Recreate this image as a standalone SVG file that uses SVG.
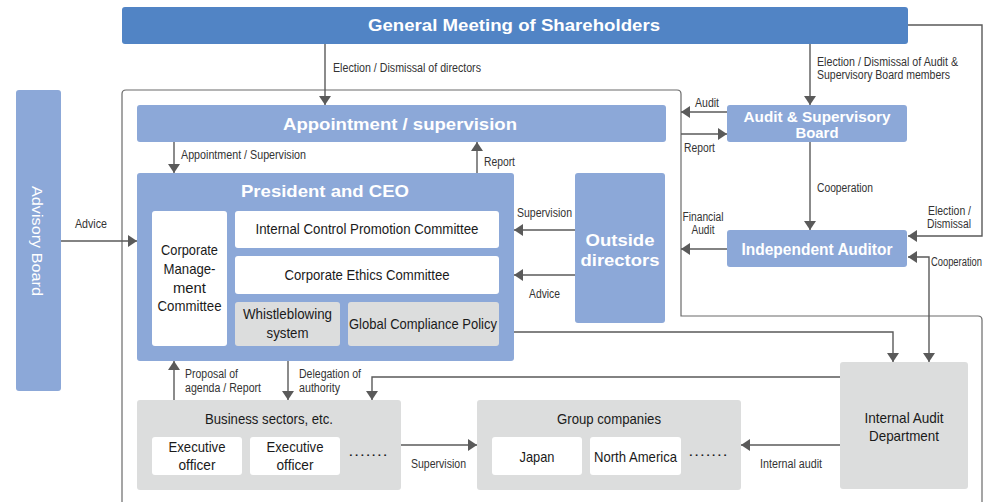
<svg xmlns="http://www.w3.org/2000/svg" width="991" height="502" viewBox="0 0 991 502">
<style>
.blue{fill:#8ca8d8}
.dark{fill:#5184c5}
.gray{fill:#dcdddd}
.white{fill:#ffffff}
.ln{fill:none;stroke:#5a5a5a;stroke-width:1.4}
.frame{fill:none;stroke:#6a6a6a;stroke-width:1.2}
.lbl{font-family:"Liberation Sans Narrow","Liberation Sans",Arial,sans-serif;font-size:12px;fill:#333333}
.nt{font-family:"Liberation Sans Narrow","Liberation Sans",Arial,sans-serif;font-size:15px;fill:#1a1a1a;text-anchor:middle}
.bt{font-family:"Liberation Sans",Arial,sans-serif;font-weight:bold;fill:#ffffff;text-anchor:middle}
</style>
<defs>
<marker id="ah" markerUnits="userSpaceOnUse" markerWidth="9" markerHeight="12" refX="9" refY="6" orient="auto">
<path d="M0,0 L9,6 L0,12 z" fill="#5a5a5a"/>
</marker>
<marker id="ahs" markerUnits="userSpaceOnUse" markerWidth="9" markerHeight="12" refX="9" refY="6" orient="auto-start-reverse">
<path d="M0,0 L9,6 L0,12 z" fill="#5a5a5a"/>
</marker>
</defs>
<rect width="991" height="502" fill="#ffffff"/>
<path class="frame" d="M122,502 L122,94 Q122,90 126,90 L677,90 Q681,90 681,94 L681,316 L978,316 Q982,316 982,320 L982,502"/>

<g id="connectors">
<line class="ln" x1="325" y1="44" x2="325" y2="105" marker-end="url(#ah)"/>
<line class="ln" x1="810" y1="44" x2="810" y2="105" marker-end="url(#ah)"/>
<line class="ln" x1="174" y1="142" x2="174" y2="173" marker-end="url(#ah)"/>
<line class="ln" x1="477" y1="173" x2="477" y2="142" marker-end="url(#ah)"/>
<line class="ln" x1="727" y1="112" x2="681" y2="112" marker-end="url(#ah)"/>
<line class="ln" x1="681" y1="134" x2="727" y2="134" marker-end="url(#ah)"/>
<line class="ln" x1="810" y1="142" x2="810" y2="230" marker-end="url(#ah)"/>
<line class="ln" x1="727" y1="249" x2="681" y2="249" marker-end="url(#ah)"/>
<path class="ln" d="M908,25 L982,25 L982,236 L908,236" marker-end="url(#ah)"/>
<path class="ln" d="M929,362 L929,257 L908,257" marker-start="url(#ahs)" marker-end="url(#ahs)"/>
<path class="ln" d="M514,332 L893,332 L893,362" marker-end="url(#ah)"/>
<line class="ln" x1="575" y1="230" x2="514" y2="230" marker-end="url(#ah)"/>
<line class="ln" x1="575" y1="275" x2="514" y2="275" marker-end="url(#ah)"/>
<line class="ln" x1="61" y1="241" x2="137" y2="241" marker-end="url(#ah)"/>
<line class="ln" x1="174" y1="400" x2="174" y2="361" marker-end="url(#ah)"/>
<line class="ln" x1="288" y1="361" x2="288" y2="400" marker-end="url(#ah)"/>
<path class="ln" d="M840,377 L372,377 L372,400" marker-end="url(#ah)"/>
<line class="ln" x1="401" y1="445" x2="477" y2="445" marker-end="url(#ah)"/>
<line class="ln" x1="840" y1="445" x2="741" y2="445" marker-end="url(#ah)"/>

<text class="lbl" x="333" y="72" textLength="148" lengthAdjust="spacingAndGlyphs">Election / Dismissal of directors</text>
<text class="lbl" x="817" y="66" textLength="141" lengthAdjust="spacingAndGlyphs">Election / Dismissal of Audit &amp;</text>
<text class="lbl" x="817" y="79" textLength="133" lengthAdjust="spacingAndGlyphs">Supervisory Board members</text>
<text class="lbl" x="695" y="107" textLength="24" lengthAdjust="spacingAndGlyphs">Audit</text>
<text class="lbl" x="684" y="152" textLength="31" lengthAdjust="spacingAndGlyphs">Report</text>
<text class="lbl" x="181" y="159" textLength="125" lengthAdjust="spacingAndGlyphs">Appointment / Supervision</text>
<text class="lbl" x="484" y="166" textLength="31" lengthAdjust="spacingAndGlyphs">Report</text>
<text class="lbl" x="817" y="192" textLength="56" lengthAdjust="spacingAndGlyphs">Cooperation</text>
<text class="lbl" x="517" y="217" textLength="55" lengthAdjust="spacingAndGlyphs">Supervision</text>
<text class="lbl" x="703" y="221" text-anchor="middle" textLength="41" lengthAdjust="spacingAndGlyphs">Financial</text>
<text class="lbl" x="703" y="234" text-anchor="middle" textLength="23" lengthAdjust="spacingAndGlyphs">Audit</text>
<text class="lbl" x="971" y="215" text-anchor="end" textLength="43" lengthAdjust="spacingAndGlyphs">Election /</text>
<text class="lbl" x="971" y="228" text-anchor="end" textLength="44" lengthAdjust="spacingAndGlyphs">Dismissal</text>
<text class="lbl" x="75" y="228" textLength="32" lengthAdjust="spacingAndGlyphs">Advice</text>
<text class="lbl" x="529" y="298" textLength="31" lengthAdjust="spacingAndGlyphs">Advice</text>
<text class="lbl" x="931" y="266" textLength="51" lengthAdjust="spacingAndGlyphs">Cooperation</text>
<text class="lbl" x="185" y="378" textLength="53" lengthAdjust="spacingAndGlyphs">Proposal of</text>
<text class="lbl" x="185" y="392" textLength="76" lengthAdjust="spacingAndGlyphs">agenda / Report</text>
<text class="lbl" x="299" y="378" textLength="62" lengthAdjust="spacingAndGlyphs">Delegation of</text>
<text class="lbl" x="299" y="392" textLength="41" lengthAdjust="spacingAndGlyphs">authority</text>
<text class="lbl" x="411" y="468" textLength="55" lengthAdjust="spacingAndGlyphs">Supervision</text>
<text class="lbl" x="760" y="468" textLength="62" lengthAdjust="spacingAndGlyphs">Internal audit</text>
</g>

<g id="general-meeting">
<rect class="dark" x="122" y="7" width="786" height="37" rx="3"/>
<text class="bt" x="514" y="31" font-size="17" textLength="292" lengthAdjust="spacingAndGlyphs">General Meeting of Shareholders</text>
</g>

<g id="advisory-board">
<rect class="blue" x="16" y="90" width="45" height="301" rx="3"/>
<text x="37" y="241" transform="rotate(90 37 241)" text-anchor="middle" dominant-baseline="central" font-family="Liberation Sans Narrow,Liberation Sans,Arial,sans-serif" font-size="15" fill="#ffffff" textLength="110" lengthAdjust="spacingAndGlyphs">Advisory Board</text>
</g>

<g id="appointment-supervision">
<rect class="blue" x="137" y="105" width="529" height="37" rx="3"/>
<text class="bt" x="400" y="130" font-size="17" textLength="234" lengthAdjust="spacingAndGlyphs">Appointment / supervision</text>
</g>

<g id="president-ceo">
<rect class="blue" x="137" y="173" width="377" height="188" rx="3"/>
<text class="bt" x="325" y="197" font-size="17" textLength="168" lengthAdjust="spacingAndGlyphs">President and CEO</text>
</g>

<g id="corporate-management-committee">
<rect class="white" x="152" y="211" width="75" height="135" rx="3"/>
<text class="nt" x="189.5" y="255" textLength="57" lengthAdjust="spacingAndGlyphs">Corporate</text>
<text class="nt" x="189.5" y="274" textLength="52" lengthAdjust="spacingAndGlyphs">Manage-</text>
<text class="nt" x="189.5" y="293" textLength="33" lengthAdjust="spacingAndGlyphs">ment</text>
<text class="nt" x="189.5" y="311" textLength="64" lengthAdjust="spacingAndGlyphs">Committee</text>
</g>

<g id="internal-control-committee">
<rect class="white" x="235" y="211" width="264" height="37" rx="3"/>
<text class="nt" x="367" y="234" textLength="223" lengthAdjust="spacingAndGlyphs">Internal Control Promotion Committee</text>
</g>

<g id="corporate-ethics-committee">
<rect class="white" x="235" y="256" width="264" height="38" rx="3"/>
<text class="nt" x="367" y="280" textLength="165" lengthAdjust="spacingAndGlyphs">Corporate Ethics Committee</text>
</g>

<g id="whistleblowing-system">
<rect class="gray" x="235" y="302" width="105" height="44" rx="3"/>
<text class="nt" x="287.5" y="319" textLength="89" lengthAdjust="spacingAndGlyphs">Whistleblowing</text>
<text class="nt" x="287.5" y="338" textLength="42" lengthAdjust="spacingAndGlyphs">system</text>
</g>

<g id="global-compliance-policy">
<rect class="gray" x="348" y="302" width="151" height="44" rx="3"/>
<text class="nt" x="423" y="329" textLength="148" lengthAdjust="spacingAndGlyphs">Global Compliance Policy</text>
</g>

<g id="outside-directors">
<rect class="blue" x="575" y="173" width="90" height="150" rx="3"/>
<text class="bt" x="620" y="246" font-size="17" textLength="69" lengthAdjust="spacingAndGlyphs">Outside</text>
<text class="bt" x="620" y="266" font-size="17" textLength="79" lengthAdjust="spacingAndGlyphs">directors</text>
</g>

<g id="audit-supervisory-board">
<rect class="blue" x="727" y="105" width="180" height="37" rx="3"/>
<text class="bt" x="817" y="122" font-size="15" textLength="147" lengthAdjust="spacingAndGlyphs">Audit &amp; Supervisory</text>
<text class="bt" x="817" y="138" font-size="15" textLength="43" lengthAdjust="spacingAndGlyphs">Board</text>
</g>

<g id="independent-auditor">
<rect class="blue" x="727" y="230" width="180" height="37" rx="3"/>
<text class="bt" x="817" y="255" font-size="16" textLength="151" lengthAdjust="spacingAndGlyphs">Independent Auditor</text>
</g>

<g id="internal-audit-department">
<rect class="gray" x="840" y="362" width="128" height="127" rx="3"/>
<text class="nt" x="904" y="423" textLength="79" lengthAdjust="spacingAndGlyphs">Internal Audit</text>
<text class="nt" x="904" y="441" textLength="70" lengthAdjust="spacingAndGlyphs">Department</text>
</g>

<g id="business-sectors">
<rect class="gray" x="137" y="400" width="264" height="90" rx="3"/>
<text class="nt" x="269" y="424" textLength="128" lengthAdjust="spacingAndGlyphs">Business sectors, etc.</text>
<rect class="white" x="152" y="437" width="90" height="38" rx="3"/>
<text class="nt" x="197" y="452" textLength="57" lengthAdjust="spacingAndGlyphs">Executive</text>
<text class="nt" x="197" y="470" textLength="37" lengthAdjust="spacingAndGlyphs">officer</text>
<rect class="white" x="250" y="437" width="90" height="38" rx="3"/>
<text class="nt" x="295" y="452" textLength="57" lengthAdjust="spacingAndGlyphs">Executive</text>
<text class="nt" x="295" y="470" textLength="37" lengthAdjust="spacingAndGlyphs">officer</text>
<text class="nt" x="368" y="459" textLength="40" lengthAdjust="spacingAndGlyphs">·······</text>
</g>

<g id="group-companies">
<rect class="gray" x="477" y="400" width="264" height="90" rx="3"/>
<text class="nt" x="609" y="424" textLength="104" lengthAdjust="spacingAndGlyphs">Group companies</text>
<rect class="white" x="492" y="437" width="90" height="38" rx="3"/>
<text class="nt" x="537" y="462" textLength="35" lengthAdjust="spacingAndGlyphs">Japan</text>
<rect class="white" x="590" y="437" width="91" height="38" rx="3"/>
<text class="nt" x="635.5" y="462" textLength="83" lengthAdjust="spacingAndGlyphs">North America</text>
<text class="nt" x="708" y="459" textLength="40" lengthAdjust="spacingAndGlyphs">·······</text>
</g>
</svg>
